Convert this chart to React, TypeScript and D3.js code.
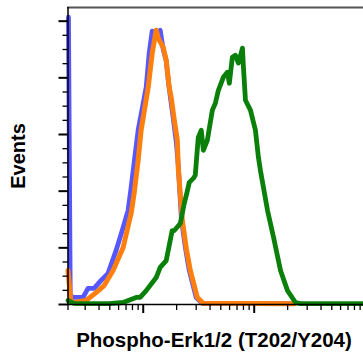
import React from "react";
import * as d3 from "d3";

// Fluorescence intensity (x) and events (y, % of max) for each histogram
const blueIntensity = [21.2, 22.0, 23.8, 28.7, 31.8, 36.1, 41.7, 48.2, 57.0, 65.9, 73.1, 77.8, 82.8, 90.0, 106.4, 113.2, 120.5, 128.2, 142.2, 151.4, 161.1, 168.0, 176.0, 186.0, 199.0, 207.0, 221.0, 240.0, 260.0, 300.0, 340.0, 2300.0];
const blueEvents = [101.4, 3.0, 2.5, 2.5, 5.7, 5.7, 8.5, 11.0, 19.1, 27.2, 33.2, 41.3, 50.0, 61.5, 76.7, 88.7, 96.5, 94.7, 96.8, 90.0, 86.0, 79.2, 73.0, 66.0, 57.0, 49.0, 30.0, 20.0, 12.0, 2.5, 0.4, 0.3];

const orangeIntensity = [21.0, 22.3, 23.8, 30.5, 37.6, 44.4, 53.5, 65.9, 77.8, 82.8, 90.0, 95.7, 110.9, 120.5, 130.9, 136.5, 151.4, 161.1, 171.4, 178.6, 190.5, 202.8, 207.0, 224.9, 244.3, 265.5, 306.9, 348.3, 2300.0];
const orangeEvents = [12.0, 1.0, 0.7, 1.4, 4.2, 6.7, 12.0, 20.1, 32.2, 39.2, 50.9, 61.5, 76.7, 88.7, 96.8, 94.0, 90.8, 86.2, 76.7, 73.1, 65.0, 58.0, 48.0, 29.7, 19.8, 12.0, 2.5, 0.4, 0.3];

const greenIntensity = [21.0, 23.8, 49.2, 65.9, 86.3, 93.8, 106.4, 130.9, 142.2, 161.1, 182.4, 190.5, 215.8, 234.4, 249.5, 260.0, 282.5, 294.4, 313.3, 333.4, 348.3, 378.4, 419.8, 446.7, 475.3, 527.2, 572.8, 597.0, 635.3, 676.1, 720.8, 783.4, 799.8, 833.7, 924.7, 1025.6, 1091.5, 1137.6, 1318.3, 1492.8, 1726.0, 1995.0, 2355.0, 2600.0, 9700.0];
const greenEvents = [1.4, 0.4, 0.3, 0.7, 2.5, 2.5, 4.9, 9.5, 13.1, 15.5, 26.1, 26.1, 28.6, 35.7, 40.0, 43.1, 44.5, 45.6, 59.0, 61.5, 54.4, 58.0, 68.6, 71.0, 75.6, 80.2, 82.0, 78.1, 87.3, 88.0, 85.2, 90.5, 83.7, 72.1, 68.6, 61.5, 51.9, 47.3, 33.2, 23.7, 12.0, 4.9, 0.7, 0.3, 0.3];

const xDomain = [21, 10000];
const yDomain = [0, 105];
const xMajorTicks = [100, 1000, 10000];
const yMajorTicks = [0, 20, 40, 60, 80, 100];
const xLabel = "Phospho-Erk1/2 (T202/Y204)";
const yLabel = "Events";

const W = 363;
const H = 358;

function zip(xs: number[], ys: number[]): [number, number][] {
  return xs.map((x, i) => [x, ys[i]]);
}

export default function App() {
  const x = d3.scaleLog().domain(xDomain).range([68, 365.2]);
  const y = d3.scaleLinear().domain(yDomain).range([304.5, 7]);

  const line = d3
    .line<[number, number]>()
    .x((d) => x(d[0]))
    .y((d) => y(d[1]));

  const xMinor: number[] = [];
  [10, 100, 1000].forEach((dec) => {
    for (let k = 2; k <= 9; k++) {
      const v = dec * k;
      if (v >= xDomain[0] && v <= xDomain[1]) xMinor.push(v);
    }
  });
  const yMinor = d3.range(0, 101, 5).filter((v) => v % 20 !== 0);

  const series = [
    { data: zip(blueIntensity, blueEvents), color: "#5757ff", w: 4.8 },
    { data: zip(orangeIntensity, orangeEvents), color: "#ff7f0e", w: 5 },
    { data: zip(greenIntensity, greenEvents), color: "#0a800a", w: 4.8 },
  ];

  return (
    <div style={{ position: "absolute", left: 0, top: 0 }}>
      <svg width={W} height={H} style={{ display: "block", background: "#fff" }}>
        <g>
          {series.map((s, i) => (
            <path
              key={i}
              d={line(s.data) || ""}
              fill="none"
              stroke={s.color}
              strokeWidth={s.w}
              strokeLinejoin="round"
              strokeLinecap="round"
            />
          ))}
        </g>
        {/* top border */}
        <line x1={67} x2={W} y1={7.5} y2={7.5} stroke="#555" strokeWidth={2} />
        {/* left axis */}
        <line x1={68} x2={68} y1={7} y2={305} stroke="#000" strokeWidth={1.5} />
        {/* bottom axis */}
        <line x1={67} x2={W} y1={304.5} y2={304.5} stroke="#000" strokeWidth={1.5} />
        {yMajorTicks.map((v) => (
          <line key={"ym" + v} x1={58.5} x2={68} y1={y(v)} y2={y(v)} stroke="#000" strokeWidth={2} />
        ))}
        {yMinor.map((v) => (
          <line key={"yn" + v} x1={62.5} x2={68} y1={y(v)} y2={y(v)} stroke="#000" strokeWidth={1.3} />
        ))}
        <line x1={x(xDomain[0])} x2={x(xDomain[0])} y1={304.5} y2={310} stroke="#000" strokeWidth={1.3} />
        {xMajorTicks.map((v) => (
          <line key={"xm" + v} x1={x(v)} x2={x(v)} y1={304.5} y2={313} stroke="#000" strokeWidth={2} />
        ))}
        {xMinor.map((v) => (
          <line key={"xn" + v} x1={x(v)} x2={x(v)} y1={304.5} y2={310} stroke="#000" strokeWidth={1.3} />
        ))}
        <text
          x={214}
          y={347}
          textAnchor="middle"
          fontFamily="'Liberation Sans', Arial, sans-serif"
          fontWeight="bold"
          fontSize={20.5}
          fill="#000"
        >
          {xLabel}
        </text>
        <text
          transform="translate(25,156) rotate(-90)"
          textAnchor="middle"
          fontFamily="'Liberation Sans', Arial, sans-serif"
          fontWeight="bold"
          fontSize={20}
          fill="#000"
        >
          {yLabel}
        </text>
      </svg>
    </div>
  );
}
